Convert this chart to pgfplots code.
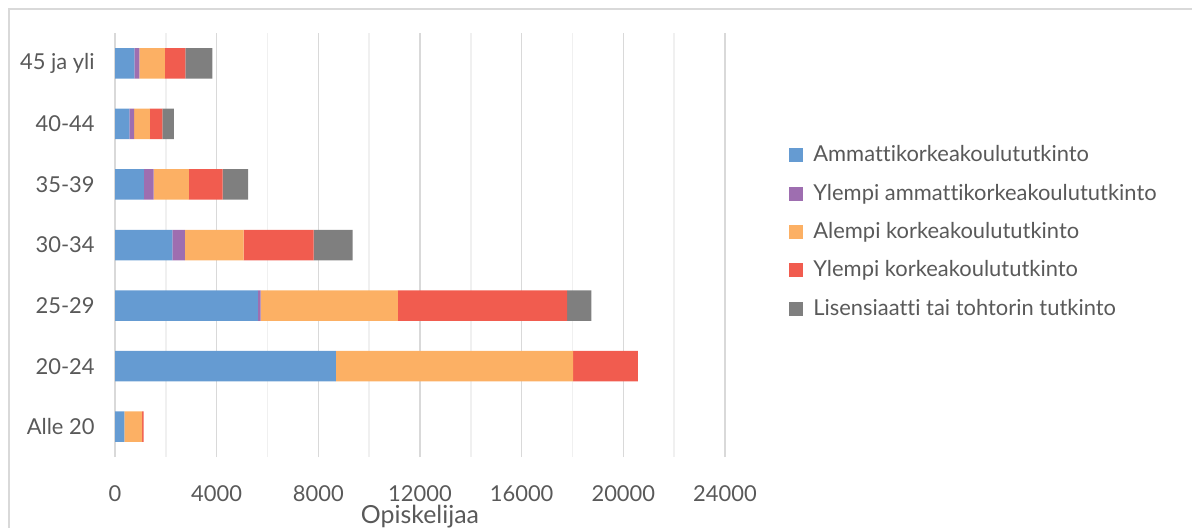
\documentclass[border=0pt]{standalone}
\usepackage{pgfplots}
\pgfplotsset{compat=1.18}
\usepackage{fontspec}
\setmainfont{Lato}[Ligatures={NoCommon}]
\definecolor{cAMK}{HTML}{659BD2}
\definecolor{cYAMK}{HTML}{9E6EB0}
\definecolor{cAlempi}{HTML}{FCB064}
\definecolor{cYlempi}{HTML}{F15C4F}
\definecolor{cLis}{HTML}{7F7F7F}
\definecolor{txt}{HTML}{595959}
\definecolor{gmaj}{HTML}{D9D9D9}
\definecolor{gmin}{HTML}{F0F0F0}
\begin{document}
\begin{tikzpicture}
\useasboundingbox (0,0) rectangle (596bp,264bp);
\draw[gmaj, line width=0.8bp] (4.5bp,0) -- (4.5bp,259.5bp) -- (596bp,259.5bp);
\begin{axis}[
  at={(57.5bp,35.5bp)}, anchor=south west,
  scale only axis, width=305bp, height=212bp,
  xbar stacked, bar width=15.25bp,
  xmin=0, xmax=24000, ymin=-0.5, ymax=6.5,
  ytick={0,1,2,3,4,5,6},
  yticklabels={Alle 20,20-24,25-29,30-34,35-39,40-44,45 ja yli},
  xtick={0,4000,8000,12000,16000,20000,24000},
  minor xtick={2000,6000,10000,14000,18000,22000},
  xmajorgrids, xminorgrids,
  major grid style={gmaj, line width=0.8bp},
  minor grid style={gmin, line width=0.8bp},
  axis x line*=bottom,
  axis y line*=left,
  x axis line style={draw=none},
  y axis line style={gmaj, line width=0.8bp, -},
  tick style={draw=none},
  scaled x ticks=false,
  /pgf/number format/assume math mode=true,
  xticklabel={\pgfmathprintnumber[fixed,precision=0,1000 sep={}]{\tick}},
  ticklabel style={font=\fontsize{11}{13}\selectfont, text=txt},
  xticklabel style={anchor=base, yshift=-22bp},
  yticklabel style={anchor=east, inner sep=0pt, xshift=-10bp},
  xlabel={Opiskelijaa},
  every axis x label/.style={at={(axis description cs:0.5,0)}, anchor=base, yshift=-33bp, font=\fontsize{12.5}{14}\selectfont, text=txt},
  legend style={at={(1,0.5)}, anchor=west, xshift=32bp, yshift=6.5bp, draw=none, fill=none,
    font=\fontsize{11}{13}\selectfont, text=txt, row sep=5.6bp, inner sep=0pt,
    /tikz/every odd column/.append style={column sep=3bp}},
  legend cell align=left,
  legend image code/.code={\fill[#1,draw=none] (0bp,-3.5bp) rectangle (7bp,3.5bp);},
  clip=false,
]
\addplot[fill=cAMK, draw=none] coordinates {(365,0) (8690,1) (5621,2) (2260,3) (1140,4) (565,5) (760,6)};
\addplot[fill=cYAMK, draw=none] coordinates {(0,0) (0,1) (104,2) (485,3) (380,4) (183,5) (197,6)};
\addplot[fill=cAlempi, draw=none] coordinates {(705,0) (9330,1) (5400,2) (2314,3) (1390,4) (629,5) (1009,6)};
\addplot[fill=cYlempi, draw=none] coordinates {(55,0) (2556,1) (6663,2) (2758,3) (1323,4) (485,5) (799,6)};
\addplot[fill=cLis, draw=none] coordinates {(0,0) (0,1) (957,2) (1529,3) (1009,4) (459,5) (1062,6)};
\legend{Ammattikorkeakoulututkinto,Ylempi ammattikorkeakoulututkinto,Alempi korkeakoulututkinto,Ylempi korkeakoulututkinto,Lisensiaatti tai tohtorin tutkinto}
\end{axis}
\end{tikzpicture}
\end{document}
